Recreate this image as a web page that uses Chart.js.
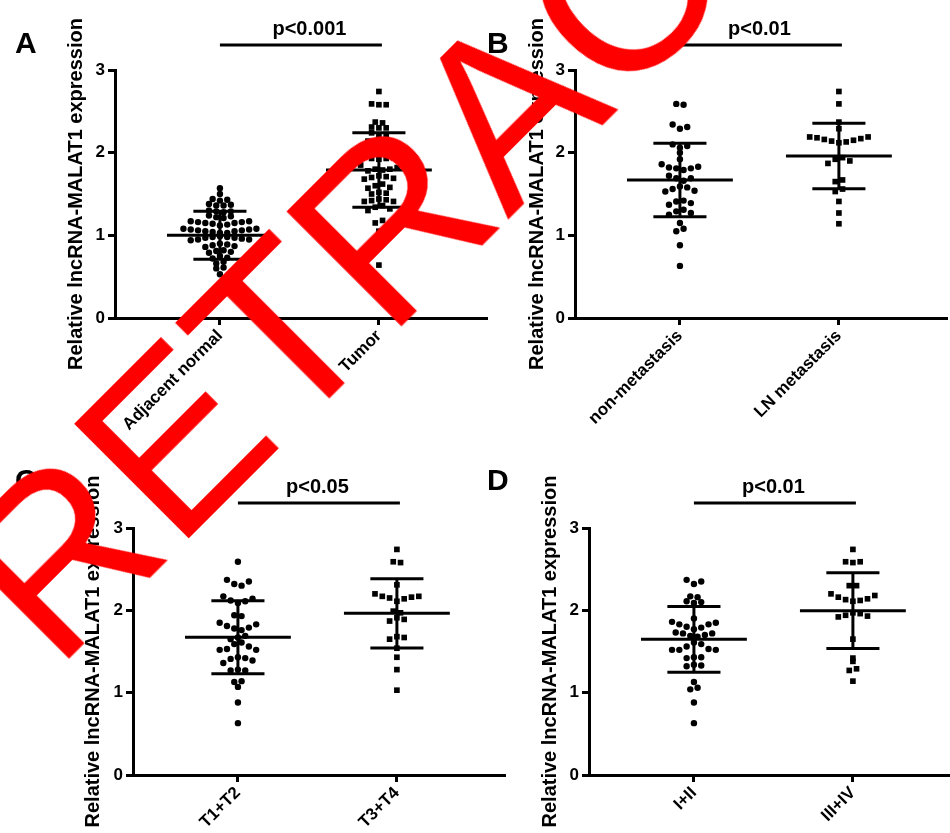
<!DOCTYPE html>
<html><head><meta charset="utf-8">
<script src="https://cdn.jsdelivr.net/npm/chart.js@4.4.1/dist/chart.umd.min.js"></script>
<style>
html,body{margin:0;padding:0;background:#fff;width:950px;height:833px;overflow:hidden;position:relative;}
canvas{position:absolute;}
#wm{position:absolute;left:54.5px;top:472.6px;font-family:"Liberation Sans",Arial,sans-serif;font-size:235px;line-height:1;color:#ff0000;white-space:nowrap;transform-origin:0 198.9px;transform:rotate(-45deg);z-index:10;}
</style></head>
<body>
<canvas id="cA" width="500" height="460" style="left:0;top:0"></canvas>
<canvas id="cB" width="490" height="460" style="left:475px;top:0"></canvas>
<canvas id="cC" width="520" height="420" style="left:0;top:440px"></canvas>
<canvas id="cD" width="490" height="420" style="left:475px;top:440px"></canvas>
<div id="wm">RETRACTED</div>
<script>
const FONT = '"Liberation Sans", Arial, sans-serif';
const yTicks = [0, 1, 2, 3];
const yTitle = 'Relative lncRNA-MALAT1 expression';

// Panel A
const catsA = ['Adjacent normal', 'Tumor'];
const normalA = [1.57, 1.50, 1.44,1.43,1.42, 1.38,1.37,1.36,1.36, 1.30,1.29,1.29,1.28, 1.24,1.23,1.22,1.21,
  1.17,1.17,1.16,1.16,1.15,1.15,1.14,1.13,1.12, 1.08,1.08,1.07,1.07,1.06,1.06,1.05,1.05,1.04,1.03,1.03,
  0.99,0.98,0.98,0.97,0.97,0.96,0.95,0.95,0.94, 0.90,0.89,0.88,0.87,0.86, 0.82,0.81,0.80,0.79,
  0.75,0.73,0.72, 0.68,0.66, 0.61,0.60, 0.53];
const tumorA = [2.74, 2.59,2.58,2.58, 2.37,2.36,2.31,2.30,2.30, 2.24,2.22,2.21, 2.14,2.12,2.10,2.09, 2.04,2.02,2.01,
  1.95,1.94,1.93,1.93,1.92, 1.85,1.82,1.80,1.80,1.79,1.78, 1.72,1.71,1.70,1.69,1.68, 1.62,1.60,1.58,1.57,
  1.52,1.51,1.50, 1.44,1.43,1.42,1.41,1.41, 1.36,1.34,1.32,1.30, 1.18,1.15, 1.05, 0.88, 0.64];
const meanA = [1.00, 1.79];
const sdA = [0.29, 0.45];
const pA = 'p<0.001';

// Panel B
const catsB = ['non-metastasis', 'LN metastasis'];
const nonMetB = [2.59,2.58, 2.34,2.31,2.29, 2.10,2.08,2.06, 2.00, 1.92, 1.86,1.83,1.82,1.81,1.81,1.79,
  1.72,1.69,1.69,1.66, 1.59,1.58,1.56,1.54,1.53, 1.42,1.41,1.39,1.37, 1.31,1.29,1.27,1.25,
  1.15, 1.08,1.05, 0.88, 0.63];
const lnMetB = [2.74, 2.59, 2.37, 2.29, 2.19,2.19,2.18,2.17,2.16,2.15,2.14,2.13,2.12,
  1.94,1.92,1.90,1.87, 1.67,1.65, 1.56,1.53, 1.41, 1.27, 1.14];
const meanB = [1.67, 1.96];
const sdB = [0.445, 0.395];
const pB = 'p<0.01';

// Panel C
const catsC = ['T1+T2', 'T3+T4'];
const t12C = [2.59, 2.37,2.35,2.32,2.30, 2.17,2.14,2.12,2.11,2.09, 1.94,1.93, 1.85,1.83,1.81,1.79,1.78,1.76,
  1.69,1.67,1.65, 1.61,1.59,1.56,1.53,1.52,1.52, 1.43,1.42,1.41,1.39,1.36, 1.28,1.27,1.27,
  1.14,1.13, 1.07, 0.88, 0.63];
const t34C = [2.74, 2.59,2.58, 2.31, 2.20,2.17,2.17,2.16,2.15,2.14,2.11, 1.99,1.97, 1.91,1.89,1.87,
  1.68,1.67,1.65, 1.54, 1.43, 1.28, 1.03];
const meanC = [1.672, 1.964];
const sdC = [0.443, 0.42];
const pC = 'p<0.05';

// Panel D
const catsD = ['I+II', 'III+IV'];
const s12D = [2.37,2.35,2.32, 2.17,2.16, 2.11,2.10,2.09, 1.90, 1.86,1.85,1.83,1.83,1.80,1.79,1.77,
  1.73,1.72,1.72,1.70,1.69,1.68, 1.61,1.59,1.56,1.53,1.52,1.52,1.52, 1.43,1.43,1.42, 1.34,1.33,1.32,
  1.13, 1.06,1.04, 0.88, 0.63];
const s34D = [2.74, 2.59,2.59,2.58, 2.30,2.30, 2.20,2.18,2.16,2.14,2.13,2.12,2.11, 1.97,1.96,1.94,1.93,1.92,
  1.65, 1.42,1.38, 1.29,1.27, 1.14];
const meanD = [1.648, 1.996];
const sdD = [0.40, 0.46];
const pD = 'p<0.01';

const annot = {
  id: 'annot',
  afterDraw(chart, args, o) {
    const {ctx, chartArea, scales: {x}} = chart;
    const x1 = x.getPixelForValue(1), x2 = x.getPixelForValue(2);
    ctx.save();
    ctx.strokeStyle = '#000'; ctx.lineWidth = 3;
    ctx.beginPath(); ctx.moveTo(x1, chartArea.top - 25); ctx.lineTo(x2 + 3, chartArea.top - 25); ctx.stroke();
    ctx.fillStyle = '#000';
    ctx.font = 'bold 20px ' + FONT; ctx.textAlign = 'center'; ctx.textBaseline = 'alphabetic';
    ctx.fillText(o.p, (x1 + x2) / 2 + (o.pdx || 0), chartArea.top - 35);
    ctx.textAlign = 'left'; ctx.font = 'bold 30px ' + FONT;
    ctx.fillText(o.letter, o.lx, o.ly);
    ctx.restore();
  }
};

// column-scatter layout: values that sit close together share a row, spread sideways
function swarm(chart, groups, means) {
  const xs = chart.scales.x;
  const pxX = xs.getPixelForValue(2) - xs.getPixelForValue(1);
  const step = 7.3 / pxX;
  groups.forEach((vals, g) => {
    const sorted = vals.map((v, i) => ({v, i})).sort((a, b) => b.v - a.v);
    const rows = []; let cur = null, prev = null;
    sorted.forEach(p => {
      if (!cur || (prev - p.v) > 0.035 || (cur[0].v - p.v) > 0.1) { cur = [p]; rows.push(cur); } else cur.push(p);
      prev = p.v;
    });
    const out = new Array(vals.length);
    rows.forEach(row => {
      const n = row.length, slots = [];
      for (let k = 0; k < n; k++) slots.push(k - (n - 1) / 2);
      slots.sort((a, b) => Math.abs(a) - Math.abs(b) || b - a);
      row.sort((a, b) => Math.abs(a.v - means[g]) - Math.abs(b.v - means[g]));
      row.forEach((p, k) => { out[p.i] = {x: g + 1 + slots[k] * step, y: p.v}; });
    });
    chart.data.datasets[g].data = out;
  });
  chart.update('none');
}

function makePanel(c) {
  const styles = ['circle', 'rect'], radii = [3.2, 4];
  const datasets = [];
  c.groups.forEach((vals, g) => {
    datasets.push({type: 'scatter', data: vals.map(v => ({x: g + 1, y: v})), pointStyle: styles[g], pointRadius: radii[g], pointBackgroundColor: '#000', pointBorderWidth: 0, order: 2});
  });
  c.means.forEach((m, g) => {
    const cx = g + 1, s = c.sds[g];
    const seg = pts => datasets.push({type: 'line', data: pts, showLine: true, borderColor: '#000', borderWidth: 3, pointRadius: 0, fill: false, order: 1, tension: 0});
    seg([{x: cx - 0.333, y: m}, {x: cx + 0.333, y: m}]);
    seg([{x: cx - 0.167, y: m + s}, {x: cx + 0.167, y: m + s}]);
    seg([{x: cx - 0.167, y: m - s}, {x: cx + 0.167, y: m - s}]);
    seg([{x: cx, y: m - s}, {x: cx, y: m + s}]);
  });
  const gridOpt = {display: true, drawOnChartArea: false, drawTicks: true, tickLength: 7, tickWidth: 3, tickColor: '#000'};
  const borderOpt = {display: true, width: 3, color: '#000'};
  const chart = new Chart(document.getElementById(c.id), {
    type: 'scatter',
    data: {datasets},
    plugins: [annot],
    options: {
      responsive: false, animation: false, events: [],
      layout: {padding: {left: 0, right: c.padRight, top: c.padTop, bottom: 0}},
      plugins: {legend: {display: false}, tooltip: {enabled: false},
        annot: {p: c.p, pdx: c.pdx, letter: c.letter, lx: c.lx, ly: c.ly}},
      scales: {
        x: {
          type: 'linear', min: 0.34, max: 2.68,
          afterBuildTicks: ax => { ax.ticks = c.cats.map((_, i) => ({value: i + 1})); },
          afterFit: ax => { ax.height = c.xH; },
          ticks: {callback: v => c.cats[Math.round(v) - 1] || '', minRotation: 45, maxRotation: 45, autoSkip: false,
            font: {family: FONT, size: 17, weight: 'bold'}, color: '#000', padding: 1},
          grid: gridOpt, border: borderOpt
        },
        y: {
          type: 'linear', min: 0, max: 3,
          afterBuildTicks: ax => { ax.ticks = yTicks.map(v => ({value: v})); },
          afterFit: ax => { ax.width = c.yW; },
          ticks: {font: {family: FONT, size: 17, weight: 'bold'}, color: '#000', padding: 3},
          grid: gridOpt, border: borderOpt,
          title: {display: true, text: yTitle, color: '#000', font: {family: FONT, size: 20, weight: 'bold'}, padding: {top: c.titlePad, bottom: 0}}
        }
      }
    }
  });
  swarm(chart, c.groups, c.means);
  return chart;
}

makePanel({id: 'cA', cats: catsA, groups: [normalA, tumorA], means: meanA, sds: sdA, p: pA, pdx: 10, letter: 'A', lx: 15, ly: 53,
  yW: 115, padRight: 13, padTop: 70, xH: 142, titlePad: 64});
makePanel({id: 'cB', cats: catsB, groups: [nonMetB, lnMetB], means: meanB, sds: sdB, p: pB, pdx: 0, letter: 'B', lx: 12, ly: 53,
  yW: 100, padRight: 18, padTop: 70, xH: 142, titlePad: 50});
makePanel({id: 'cC', cats: catsC, groups: [t12C, t34C], means: meanC, sds: sdC, p: pC, pdx: 0, letter: 'C', lx: 15, ly: 50,
  yW: 133, padRight: 15, padTop: 88, xH: 85, titlePad: 81});
makePanel({id: 'cD', cats: catsD, groups: [s12D, s34D], means: meanD, sds: sdD, p: pD, pdx: 0, letter: 'D', lx: 12, ly: 50,
  yW: 114, padRight: 4, padTop: 88, xH: 85, titlePad: 63});
</script>
</body></html>
